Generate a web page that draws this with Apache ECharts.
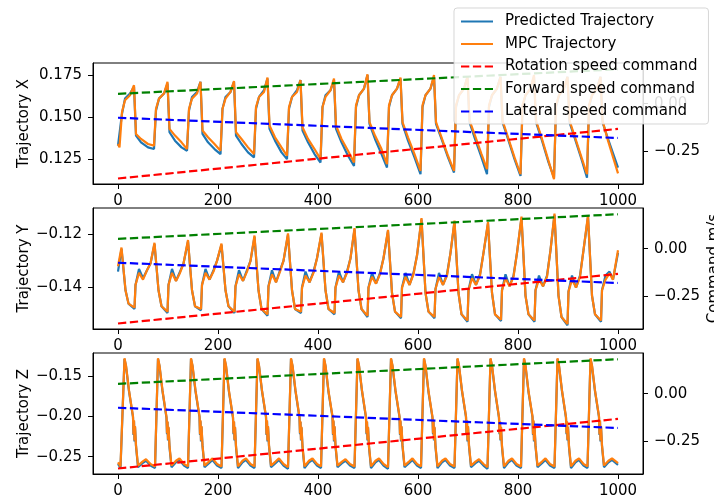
<!DOCTYPE html>
<html>
<head>
<meta charset="utf-8">
<script src="https://cdn.jsdelivr.net/npm/echarts@6.0.0/dist/echarts.min.js"></script>
<style>
  html, body { margin: 0; padding: 0; background: #fff; }
  #chart { width: 714px; height: 501px; }
</style>
</head>
<body>
<div id="chart"></div>
<script>
// ---- data ----
const stepTicks = [0, 200, 400, 600, 800, 1000];
const xTicks = [0.125, 0.150, 0.175];
const yTicks = [-0.14, -0.12];
const zTicks = [-0.25, -0.20, -0.15];
const cmdTicks = [-0.25, 0.00];

// command lines (same on every panel)
const cmdSteps = [0, 1000];
const rotationCmd = [-0.395, -0.133];
const forwardCmd = [0.052, 0.182];
const lateralCmd = [-0.074, -0.181];

// Trajectory X
const xSteps = [
  0, 3, 8, 14, 24, 32, 36, 46, 60,
  72, 76, 82, 92, 99, 103, 114, 127,
  138, 142, 148, 158, 165, 169, 180, 193,
  205, 209, 215, 225, 232, 236, 247, 260,
  272, 276, 282, 292, 299, 303, 314, 327,
  338, 342, 348, 358, 365, 369, 380, 393,
  405, 409, 415, 425, 432, 436, 447, 460,
  472, 476, 482, 492, 499, 503, 514, 527,
  538, 542, 548, 558, 565, 569, 580, 593,
  605, 609, 615, 625, 632, 636, 647, 660,
  672, 676, 682, 692, 699, 703, 714, 727,
  738, 742, 748, 758, 765, 769, 780, 793,
  805, 809, 815, 825, 832, 836, 847, 860,
  872, 876, 882, 892, 899, 903, 914, 927,
  938, 942, 948, 958, 965, 969, 980, 1000
];
const xPred = [
  0.133, 0.132, 0.152, 0.161, 0.164, 0.168, 0.139, 0.135, 0.132,
  0.131, 0.154, 0.161, 0.164, 0.170, 0.141, 0.136, 0.132,
  0.130, 0.154, 0.162, 0.165, 0.171, 0.140, 0.135, 0.131,
  0.128, 0.155, 0.162, 0.165, 0.171, 0.139, 0.134, 0.129,
  0.126, 0.155, 0.162, 0.166, 0.173, 0.143, 0.136, 0.129,
  0.125, 0.155, 0.162, 0.166, 0.172, 0.142, 0.135, 0.128,
  0.123, 0.156, 0.163, 0.166, 0.172, 0.143, 0.135, 0.127,
  0.121, 0.156, 0.163, 0.167, 0.175, 0.146, 0.137, 0.128,
  0.120, 0.156, 0.163, 0.167, 0.173, 0.146, 0.136, 0.126,
  0.116, 0.156, 0.163, 0.167, 0.174, 0.146, 0.137, 0.126,
  0.117, 0.156, 0.163, 0.167, 0.174, 0.147, 0.137, 0.126,
  0.116, 0.156, 0.163, 0.167, 0.174, 0.147, 0.137, 0.125,
  0.115, 0.156, 0.163, 0.167, 0.174, 0.147, 0.137, 0.124,
  0.114, 0.156, 0.163, 0.167, 0.174, 0.147, 0.137, 0.125,
  0.114, 0.156, 0.163, 0.167, 0.174, 0.147, 0.137, 0.120
];
const xMpc = [
  0.134, 0.132, 0.153, 0.160, 0.163, 0.169, 0.140, 0.137, 0.134,
  0.133, 0.155, 0.161, 0.164, 0.171, 0.143, 0.139, 0.135,
  0.131, 0.155, 0.161, 0.164, 0.171, 0.142, 0.138, 0.134,
  0.130, 0.155, 0.161, 0.165, 0.1715, 0.141, 0.137, 0.132,
  0.128, 0.156, 0.162, 0.165, 0.1735, 0.145, 0.138, 0.132,
  0.127, 0.156, 0.162, 0.165, 0.172, 0.144, 0.137, 0.131,
  0.125, 0.156, 0.162, 0.166, 0.173, 0.145, 0.137, 0.130,
  0.123, 0.157, 0.163, 0.167, 0.1755, 0.147, 0.139, 0.131,
  0.122, 0.157, 0.163, 0.167, 0.1735, 0.147, 0.138, 0.128,
  0.118, 0.157, 0.163, 0.167, 0.175, 0.147, 0.138, 0.127,
  0.118, 0.157, 0.163, 0.167, 0.174, 0.148, 0.139, 0.128,
  0.119, 0.157, 0.163, 0.167, 0.174, 0.148, 0.138, 0.126,
  0.116, 0.157, 0.163, 0.167, 0.175, 0.148, 0.138, 0.125,
  0.113, 0.157, 0.163, 0.167, 0.174, 0.148, 0.138, 0.126,
  0.116, 0.157, 0.163, 0.167, 0.174, 0.148, 0.136, 0.1165
];

// Trajectory Y
const ySteps = [
  0,
  7, 15, 21, 33, 35, 42, 50, 58, 65,
  73, 81, 87, 99, 101, 108, 116, 124, 131,
  140, 148, 154, 166, 168, 175, 183, 191, 198,
  207, 215, 221, 233, 235, 242, 250, 258, 265,
  273, 281, 287, 299, 301, 308, 316, 324, 331,
  340, 348, 354, 366, 368, 375, 383, 391, 398,
  407, 415, 421, 433, 435, 442, 450, 458, 465,
  473, 481, 487, 499, 501, 508, 516, 524, 531,
  540, 548, 554, 566, 568, 575, 583, 591, 598,
  607, 615, 621, 633, 635, 642, 650, 658, 665,
  673, 681, 687, 699, 701, 708, 716, 724, 731,
  740, 748, 754, 766, 768, 775, 783, 791, 798,
  807, 815, 821, 833, 835, 842, 850, 858, 865,
  873, 881, 887, 899, 901, 908, 916, 924, 931,
  940, 948, 954, 966, 968, 975, 983, 990, 1000
];
const yPred = [
  -0.134,
  -0.1255, -0.141, -0.146, -0.148, -0.139, -0.133, -0.1365, -0.1335, -0.131,
  -0.1237, -0.141, -0.147, -0.1495, -0.139, -0.133, -0.1375, -0.134, -0.131,
  -0.1227, -0.141, -0.147, -0.1485, -0.139, -0.133, -0.137, -0.1335, -0.130,
  -0.124, -0.141, -0.147, -0.1495, -0.1395, -0.1335, -0.1375, -0.1335, -0.130,
  -0.121, -0.141, -0.148, -0.1505, -0.1395, -0.1335, -0.138, -0.1335, -0.130,
  -0.1202, -0.141, -0.148, -0.1495, -0.140, -0.134, -0.138, -0.134, -0.129,
  -0.1199, -0.141, -0.148, -0.150, -0.140, -0.134, -0.138, -0.134, -0.129,
  -0.1182, -0.141, -0.148, -0.151, -0.140, -0.1345, -0.1385, -0.1345, -0.129,
  -0.1189, -0.142, -0.149, -0.1515, -0.140, -0.1345, -0.139, -0.1345, -0.128,
  -0.1145, -0.142, -0.149, -0.1515, -0.1405, -0.1345, -0.139, -0.135, -0.127,
  -0.1154, -0.142, -0.150, -0.1528, -0.141, -0.135, -0.139, -0.135, -0.127,
  -0.116, -0.142, -0.150, -0.1525, -0.141, -0.135, -0.1395, -0.1355, -0.127,
  -0.1139, -0.143, -0.150, -0.1528, -0.141, -0.1355, -0.1395, -0.1355, -0.126,
  -0.1128, -0.143, -0.151, -0.1541, -0.1415, -0.1355, -0.140, -0.1355, -0.126,
  -0.1135, -0.143, -0.150, -0.1528, -0.141, -0.1355, -0.134, -0.137, -0.127
];
const yMpc = [
  -0.132,
  -0.125, -0.141, -0.146, -0.1475, -0.139, -0.1345, -0.137, -0.1335, -0.131,
  -0.1232, -0.141, -0.147, -0.149, -0.139, -0.1345, -0.1375, -0.1345, -0.131,
  -0.1222, -0.141, -0.147, -0.148, -0.139, -0.1345, -0.137, -0.134, -0.130,
  -0.1235, -0.141, -0.147, -0.149, -0.1395, -0.135, -0.1375, -0.134, -0.130,
  -0.1205, -0.141, -0.148, -0.150, -0.1395, -0.135, -0.138, -0.134, -0.130,
  -0.1197, -0.141, -0.148, -0.149, -0.140, -0.1355, -0.138, -0.1345, -0.129,
  -0.1194, -0.141, -0.148, -0.1495, -0.140, -0.1355, -0.138, -0.1345, -0.129,
  -0.1177, -0.141, -0.148, -0.1505, -0.140, -0.136, -0.1385, -0.135, -0.129,
  -0.1184, -0.142, -0.149, -0.151, -0.140, -0.136, -0.139, -0.135, -0.128,
  -0.114, -0.142, -0.149, -0.151, -0.1405, -0.136, -0.139, -0.1355, -0.127,
  -0.1149, -0.142, -0.150, -0.1523, -0.141, -0.1365, -0.139, -0.1355, -0.127,
  -0.1155, -0.142, -0.150, -0.152, -0.141, -0.1365, -0.1395, -0.136, -0.127,
  -0.1134, -0.143, -0.150, -0.1523, -0.141, -0.137, -0.1395, -0.136, -0.126,
  -0.1123, -0.143, -0.151, -0.1536, -0.1415, -0.137, -0.140, -0.136, -0.126,
  -0.113, -0.143, -0.150, -0.1523, -0.141, -0.137, -0.1347, -0.137, -0.126
];

// Trajectory Z
const zSteps = [
  0, 5, 13, 16, 22, 30, 31, 32, 33, 34, 36, 40, 49, 56, 65,
  74, 80, 83, 89, 97, 98, 99, 100, 101, 103, 107, 116, 123, 132,
  140, 146, 149, 155, 163, 164, 165, 166, 167, 169, 173, 182, 189, 198,
  207, 213, 216, 222, 230, 231, 232, 233, 234, 236, 240, 249, 256, 265,
  273, 279, 282, 288, 296, 297, 298, 299, 300, 302, 306, 315, 322, 331,
  340, 346, 349, 355, 363, 364, 365, 366, 367, 369, 373, 382, 389, 398,
  406, 412, 415, 421, 429, 430, 431, 432, 433, 435, 439, 448, 455, 464,
  473, 479, 482, 488, 496, 497, 498, 499, 500, 502, 506, 515, 522, 531,
  540, 546, 549, 555, 563, 564, 565, 566, 567, 569, 573, 582, 589, 598,
  606, 612, 615, 621, 629, 630, 631, 632, 633, 635, 639, 648, 655, 664,
  673, 679, 682, 688, 696, 697, 698, 699, 700, 702, 706, 715, 722, 731,
  739, 745, 748, 754, 762, 763, 764, 765, 766, 768, 772, 781, 788, 797,
  806, 812, 815, 821, 829, 830, 831, 832, 833, 835, 839, 848, 855, 864,
  873, 879, 882, 888, 896, 897, 898, 899, 900, 902, 906, 915, 922, 931,
  939, 945, 948, 954, 962, 963, 964, 965, 966, 968, 972, 981, 988, 1000
];
const zPred = [
  -0.259, -0.264, -0.129, -0.138, -0.169, -0.201, -0.223, -0.206, -0.231, -0.213, -0.237, -0.263, -0.258, -0.255, -0.261,
  -0.264, -0.129, -0.138, -0.169, -0.202, -0.222, -0.207, -0.230, -0.214, -0.238, -0.263, -0.257, -0.254, -0.261,
  -0.264, -0.129, -0.138, -0.169, -0.201, -0.223, -0.206, -0.231, -0.213, -0.237, -0.263, -0.258, -0.254, -0.261,
  -0.264, -0.129, -0.138, -0.170, -0.202, -0.222, -0.207, -0.230, -0.214, -0.238, -0.264, -0.257, -0.254, -0.261,
  -0.264, -0.129, -0.138, -0.169, -0.201, -0.223, -0.206, -0.231, -0.213, -0.237, -0.263, -0.258, -0.254, -0.261,
  -0.265, -0.129, -0.138, -0.169, -0.202, -0.222, -0.207, -0.230, -0.214, -0.238, -0.264, -0.257, -0.254, -0.261,
  -0.264, -0.129, -0.138, -0.170, -0.201, -0.223, -0.206, -0.231, -0.213, -0.237, -0.263, -0.258, -0.255, -0.261,
  -0.264, -0.129, -0.138, -0.169, -0.202, -0.222, -0.207, -0.230, -0.214, -0.238, -0.264, -0.257, -0.254, -0.261,
  -0.265, -0.129, -0.138, -0.169, -0.201, -0.223, -0.206, -0.231, -0.213, -0.237, -0.263, -0.258, -0.254, -0.261,
  -0.264, -0.129, -0.138, -0.170, -0.202, -0.222, -0.207, -0.230, -0.214, -0.238, -0.264, -0.257, -0.254, -0.261,
  -0.264, -0.129, -0.138, -0.169, -0.201, -0.223, -0.206, -0.231, -0.213, -0.237, -0.263, -0.258, -0.255, -0.261,
  -0.265, -0.129, -0.138, -0.169, -0.202, -0.222, -0.207, -0.230, -0.214, -0.238, -0.264, -0.257, -0.254, -0.261,
  -0.264, -0.129, -0.138, -0.170, -0.201, -0.223, -0.206, -0.231, -0.213, -0.237, -0.263, -0.258, -0.254, -0.261,
  -0.264, -0.129, -0.138, -0.169, -0.202, -0.222, -0.207, -0.230, -0.214, -0.238, -0.264, -0.257, -0.254, -0.261,
  -0.264, -0.129, -0.138, -0.169, -0.201, -0.223, -0.206, -0.231, -0.213, -0.237, -0.263, -0.257, -0.254, -0.260
];
const zMpc = [
  -0.257, -0.262, -0.128, -0.137, -0.168, -0.200, -0.222, -0.205, -0.230, -0.212, -0.236, -0.261, -0.256, -0.253, -0.259,
  -0.262, -0.128, -0.137, -0.168, -0.201, -0.221, -0.206, -0.229, -0.213, -0.237, -0.261, -0.255, -0.252, -0.259,
  -0.262, -0.128, -0.137, -0.168, -0.200, -0.222, -0.205, -0.230, -0.212, -0.236, -0.261, -0.256, -0.252, -0.259,
  -0.262, -0.128, -0.137, -0.169, -0.201, -0.221, -0.206, -0.229, -0.213, -0.237, -0.262, -0.255, -0.252, -0.259,
  -0.262, -0.128, -0.137, -0.168, -0.200, -0.222, -0.205, -0.230, -0.212, -0.236, -0.261, -0.256, -0.252, -0.259,
  -0.263, -0.128, -0.137, -0.168, -0.201, -0.221, -0.206, -0.229, -0.213, -0.237, -0.262, -0.255, -0.252, -0.259,
  -0.262, -0.128, -0.137, -0.169, -0.200, -0.222, -0.205, -0.230, -0.212, -0.236, -0.261, -0.256, -0.253, -0.259,
  -0.262, -0.128, -0.137, -0.168, -0.201, -0.221, -0.206, -0.229, -0.213, -0.237, -0.262, -0.255, -0.252, -0.259,
  -0.263, -0.128, -0.137, -0.168, -0.200, -0.222, -0.205, -0.230, -0.212, -0.236, -0.261, -0.256, -0.252, -0.259,
  -0.262, -0.128, -0.137, -0.169, -0.201, -0.221, -0.206, -0.229, -0.213, -0.237, -0.262, -0.255, -0.252, -0.259,
  -0.262, -0.128, -0.137, -0.168, -0.200, -0.222, -0.205, -0.230, -0.212, -0.236, -0.261, -0.256, -0.253, -0.259,
  -0.263, -0.128, -0.137, -0.168, -0.201, -0.221, -0.206, -0.229, -0.213, -0.237, -0.262, -0.255, -0.252, -0.259,
  -0.262, -0.128, -0.137, -0.169, -0.200, -0.222, -0.205, -0.230, -0.212, -0.236, -0.261, -0.256, -0.252, -0.259,
  -0.262, -0.128, -0.137, -0.168, -0.201, -0.221, -0.206, -0.229, -0.213, -0.237, -0.262, -0.255, -0.252, -0.259,
  -0.262, -0.128, -0.137, -0.168, -0.200, -0.222, -0.205, -0.230, -0.212, -0.236, -0.261, -0.255, -0.252, -0.258
];

// ---- chart ----
const FONT = 'DejaVu Sans';
const pairs = (xs, ys) => xs.map((x, i) => [x, ys[i]]);
const minus = s => s.replace('-', '\u2212');

const panels = [
  { name: 'Trajectory X', steps: xSteps, pred: xPred, mpc: xMpc, ticks: xTicks, min: 0.1102, max: 0.1822, dec: 3 },
  { name: 'Trajectory Y', steps: ySteps, pred: yPred, mpc: yMpc, ticks: yTicks, min: -0.1555, max: -0.1102, dec: 2 },
  { name: 'Trajectory Z', steps: zSteps, pred: zPred, mpc: zMpc, ticks: zTicks, min: -0.2714, max: -0.1216, dec: 2 }
];
const tops = [63, 208, 353];

const tickStyle = { show: true, length: 5, lineStyle: { color: '#000', width: 1 } };
const labelStyle = { color: '#000', fontFamily: FONT, fontSize: 15 };

const grid = [], xAxis = [], yAxis = [], series = [];

panels.forEach((p, g) => {
  grid.push({
    left: 93, top: tops[g], width: 550, height: 121, outerBoundsMode: 'none',
    show: true, borderColor: '#000', borderWidth: 1, backgroundColor: 'transparent'
  });
  xAxis.push({
    type: 'value', gridIndex: g, min: -50, max: 1050,
    axisLine: { show: true, onZero: false, lineStyle: { color: '#000', width: 1 } },
    axisTick: Object.assign({ customValues: stepTicks }, tickStyle),
    axisLabel: Object.assign({ customValues: stepTicks, formatter: v => String(v), margin: 10 }, labelStyle),
    splitLine: { show: false }
  });
  yAxis.push({
    type: 'value', gridIndex: g, position: 'left', min: p.min, max: p.max,
    name: p.name, nameLocation: 'middle', nameRotate: 90, nameGap: 61, nameMoveOverlap: false,
    nameTextStyle: { color: '#000', fontFamily: FONT, fontSize: 15 },
    axisLine: { show: true, onZero: false, lineStyle: { color: '#000', width: 1 } },
    axisTick: Object.assign({ customValues: p.ticks }, tickStyle),
    axisLabel: Object.assign({ customValues: p.ticks, formatter: v => minus(v.toFixed(p.dec)), margin: 11 }, labelStyle),
    splitLine: { show: false }
  });
  yAxis.push({
    type: 'value', gridIndex: g, position: 'right', min: -0.424, max: 0.215,
    name: g === 1 ? 'Command m/s' : '', nameLocation: 'middle', nameRotate: 90, nameGap: 64, nameMoveOverlap: false,
    nameTextStyle: { color: '#000', fontFamily: FONT, fontSize: 15 },
    axisLine: { show: true, onZero: false, lineStyle: { color: '#000', width: 1 } },
    axisTick: Object.assign({ customValues: cmdTicks }, tickStyle),
    axisLabel: Object.assign({ customValues: cmdTicks, formatter: v => minus(v.toFixed(2)), margin: 11 }, labelStyle),
    splitLine: { show: false }
  });

  const base = { type: 'line', xAxisIndex: g, showSymbol: false, symbol: 'none', silent: true, animation: false };
  series.push(Object.assign({}, base, {
    name: 'Predicted Trajectory', yAxisIndex: 2 * g, data: pairs(p.steps, p.pred),
    color: '#1f77b4', lineStyle: { color: '#1f77b4', width: 2.2 }
  }));
  series.push(Object.assign({}, base, {
    name: 'MPC Trajectory', yAxisIndex: 2 * g, data: pairs(p.steps, p.mpc),
    color: '#ff7f0e', lineStyle: { color: '#ff7f0e', width: 2.2 }
  }));
  [['Rotation speed command', rotationCmd, '#ff0000'],
   ['Forward speed command', forwardCmd, '#008000'],
   ['Lateral speed command', lateralCmd, '#0000ff']].forEach(([name, vals, col]) => {
    series.push(Object.assign({}, base, {
      name, yAxisIndex: 2 * g + 1, data: pairs(cmdSteps, vals),
      color: col, lineStyle: { color: col, width: 2.2, type: [8.3, 3.6] }
    }));
  });
});

const chart = echarts.init(document.getElementById('chart'), null, { renderer: 'canvas' });
chart.setOption({
  animation: false,
  backgroundColor: '#fff',
  grid, xAxis, yAxis, series,
  legend: {
    orient: 'vertical', left: 454, top: 8, z: 20,
    padding: [6, 11, 5, 6], itemGap: 7.5, itemWidth: 32, itemHeight: 14,
    itemStyle: { opacity: 0 },
    backgroundColor: 'rgba(255,255,255,0.85)', borderColor: 'rgba(204,204,204,0.8)', borderWidth: 1, borderRadius: 3,
    textStyle: { color: '#000', fontFamily: FONT, fontSize: 15, padding: [0, 0, 0, 7] },
    data: ['Predicted Trajectory', 'MPC Trajectory', 'Rotation speed command', 'Forward speed command', 'Lateral speed command']
  }
});
</script>
</body>
</html>
